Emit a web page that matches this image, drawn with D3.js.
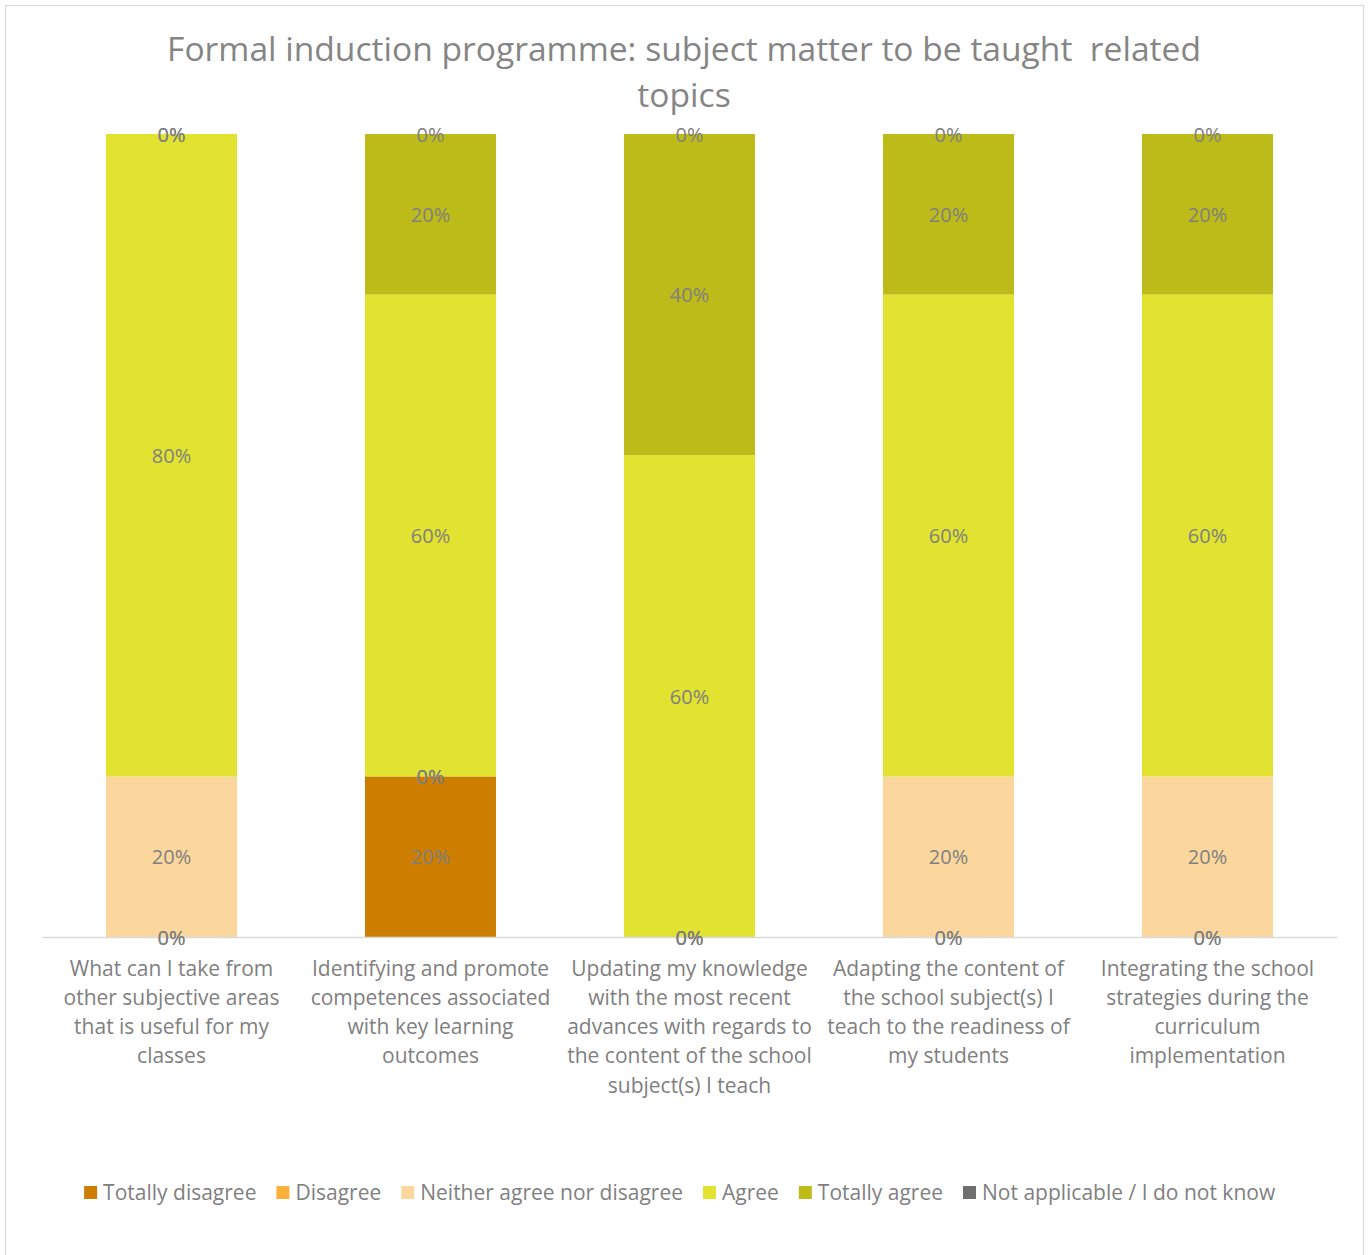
<!DOCTYPE html>
<html>
<head>
<meta charset="utf-8">
<script src="https://cdn.jsdelivr.net/npm/d3@7"></script>
<style>
  html, body { margin: 0; padding: 0; background: #fff; }
  svg { display: block; }
  text { white-space: pre; }
</style>
</head>
<body>
<svg id="chart" width="1369" height="1255"></svg>
<script>
// Survey items (each label split into its display lines)
const categories = [
  ["What can I take from", "other subjective areas", "that is useful for my", "classes"],
  ["Identifying and promote", "competences associated", "with key learning", "outcomes"],
  ["Updating my knowledge", "with the most recent", "advances with regards to", "the content of the school", "subject(s) I teach"],
  ["Adapting the content of", "the school subject(s) I", "teach to the readiness of", "my students"],
  ["Integrating the school", "strategies during the", "curriculum", "implementation"]
];

// Answer options, bottom to top of each stack
const seriesNames = ["Totally disagree", "Disagree", "Neither agree nor disagree", "Agree", "Totally agree", "Not applicable / I do not know"];
const seriesColors = ["#CD7E00", "#FBB03B", "#FBD79D", "#E2E331", "#BDBB19", "#6F6F6F"];

// Share of respondents (%) per answer option, one value per item
const totallyDisagree = [0, 20, 0, 0, 0];
const disagree        = [0, 0, 0, 0, 0];
const neither         = [20, 0, 0, 20, 20];
const agree           = [80, 60, 60, 60, 60];
const totallyAgree    = [0, 20, 40, 20, 20];
const notApplicable   = [0, 0, 0, 0, 0];

const titleLines = ["Formal induction programme: subject matter to be taught  related", "topics"];

const seriesValues = [totallyDisagree, disagree, neither, agree, totallyAgree, notApplicable];
const rows = categories.map((c, i) => {
  const r = { key: i };
  seriesNames.forEach((s, k) => { r[s] = seriesValues[k][i]; });
  return r;
});

const svg = d3.select("#chart");
const FONT = "'Open Sans', sans-serif";
const TEXT = "#7F7F7F";

// chart frame
svg.append("rect")
  .attr("x", 5.5).attr("y", 5.5)
  .attr("width", 1358).attr("height", 1262)
  .attr("fill", "#fff").attr("stroke", "#D9D9D9").attr("stroke-width", 1.2);

// title
svg.append("text")
  .attr("text-anchor", "middle")
  .attr("font-family", FONT).attr("font-size", 33.6).attr("fill", "#858585")
  .selectAll("tspan").data(titleLines).join("tspan")
  .attr("x", 684).attr("y", (d, i) => 61 + i * 46)
  .text(d => d);

const x = d3.scaleBand()
  .domain(d3.range(categories.length))
  .range([42, 1337])
  .paddingInner(0.494)
  .paddingOuter(0.247);

const y = d3.scaleLinear().domain([0, 100]).range([937, 134]);

const stacked = d3.stack().keys(seriesNames)(rows);

// bars
const layers = svg.append("g").selectAll("g").data(stacked).join("g")
  .attr("fill", (d, i) => seriesColors[i]);

layers.selectAll("rect").data(d => d).join("rect")
  .attr("x", (d, i) => x(i))
  .attr("width", x.bandwidth())
  .attr("y", d => y(d[1]))
  .attr("height", d => y(d[0]) - y(d[1]));

// category axis
const xAxis = svg.append("g")
  .attr("transform", "translate(0,937)")
  .call(d3.axisBottom(x).tickSize(0).tickFormat(""));
xAxis.select(".domain").attr("stroke", "#D9D9D9").attr("stroke-width", 1.5);

xAxis.selectAll(".tick").each(function(d) {
  const t = d3.select(this).append("text")
    .attr("fill", TEXT)
    .attr("font-family", FONT).attr("font-size", 21)
    .attr("text-anchor", "middle");
  categories[d].forEach((line, j) => {
    t.append("tspan").attr("x", 0).attr("y", 38.5 + j * 29.3).text(line);
  });
});

// data labels at segment centres
const labels = svg.append("g")
  .attr("font-family", FONT).attr("font-size", 20).attr("fill", TEXT)
  .attr("text-anchor", "middle");
stacked.forEach(layer => {
  layer.forEach((d, i) => {
    labels.append("text")
      .attr("x", x(i) + x.bandwidth() / 2)
      .attr("y", (y(d[0]) + y(d[1])) / 2)
      .attr("dy", "0.38em")
      .text((d[1] - d[0]) + "%");
  });
});

// legend
const legend = svg.append("g").attr("font-family", FONT).attr("font-size", 21).attr("fill", TEXT);
const items = legend.selectAll("g").data(seriesNames).join("g");
items.append("rect").attr("width", 13).attr("height", 13).attr("y", -7)
  .attr("fill", (d, i) => seriesColors[i]);
items.append("text").attr("x", 19).attr("dy", "0.35em").text(d => d);
const widths = [];
items.each(function() { widths.push(this.getBBox().width); });
const gap = 20;
const total = d3.sum(widths) + gap * (widths.length - 1);
let cx = 680 - total / 2;
items.attr("transform", (d, i) => {
  const tx = cx; cx += widths[i] + gap;
  return `translate(${tx},1193)`;
});
</script>
</body>
</html>
